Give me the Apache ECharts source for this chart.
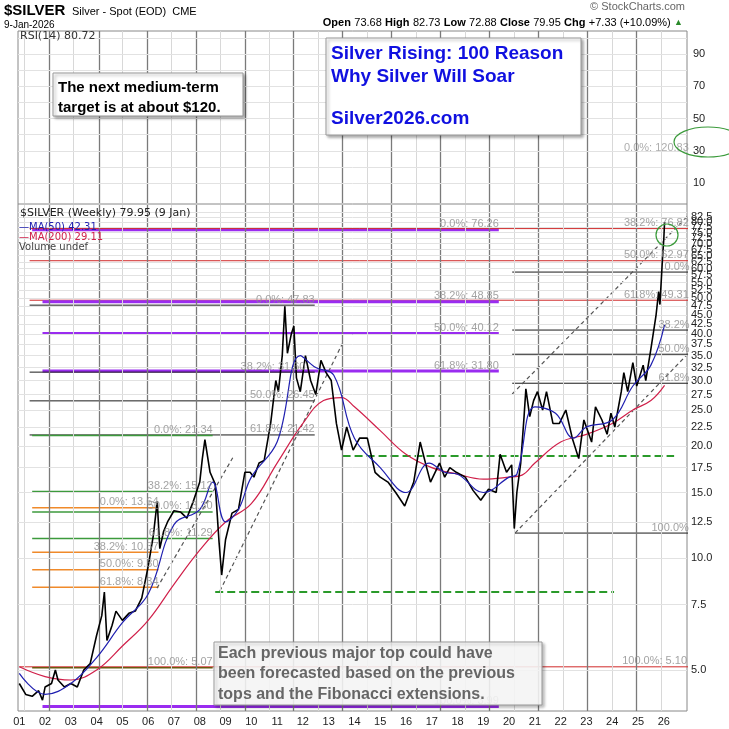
<!DOCTYPE html>
<html><head><meta charset="utf-8">
<script src="https://cdn.jsdelivr.net/npm/echarts@6/dist/echarts.min.js"></script>
<style>html,body{margin:0;padding:0;background:#fff}#c{width:729px;height:729px}</style>
</head><body><div id="c"></div>
<script>
// ---------- data ----------
const priceDates = [2001.0,2001.25,2001.5,2001.75,2001.9,2002.0,2002.25,2002.4,2002.5,2002.75,2003.0,2003.25,2003.5,2003.75,2004.0,2004.2,2004.3,2004.4,2004.6,2004.75,2005.0,2005.25,2005.5,2005.75,2006.0,2006.2,2006.35,2006.45,2006.6,2006.75,2007.0,2007.25,2007.5,2007.75,2008.0,2008.1,2008.2,2008.4,2008.6,2008.75,2008.85,2009.0,2009.25,2009.5,2009.75,2009.95,2010.1,2010.3,2010.5,2010.75,2010.95,2011.05,2011.2,2011.3,2011.4,2011.55,2011.65,2011.75,2011.9,2012.1,2012.3,2012.5,2012.7,2012.9,2013.1,2013.3,2013.5,2013.7,2013.95,2014.2,2014.5,2014.8,2015.0,2015.3,2015.6,2015.95,2016.3,2016.55,2016.8,2016.95,2017.3,2017.5,2017.7,2017.95,2018.3,2018.6,2018.9,2019.2,2019.5,2019.65,2019.9,2020.1,2020.2,2020.3,2020.45,2020.58,2020.65,2020.8,2020.95,2021.1,2021.3,2021.45,2021.7,2021.95,2022.2,2022.45,2022.7,2022.9,2023.2,2023.35,2023.6,2023.8,2023.95,2024.1,2024.35,2024.45,2024.6,2024.8,2024.95,2025.2,2025.3,2025.5,2025.7,2025.8,2025.85,2025.95,2026.0,2026.03];
const prices     = [4.6,4.3,4.25,4.4,4.15,4.5,4.6,5.0,4.7,4.5,4.6,4.5,5.0,5.2,6.2,7.0,8.1,6.0,6.6,7.2,6.8,7.1,7.2,7.8,9.5,11.5,14.2,10.6,11.8,12.5,13.4,13.3,12.8,14.2,16.0,18.5,20.8,17.0,15.8,11.0,9.0,11.2,13.2,13.5,17.0,17.0,16.5,18.0,18.3,23.0,30.0,28.0,35.0,47.5,35.5,40.0,42.0,30.5,28.0,35.0,30.0,27.5,34.0,31.5,30.0,23.0,19.5,22.5,19.5,21.0,21.0,17.0,16.5,16.0,15.0,13.8,16.0,20.5,17.5,16.0,18.0,16.5,17.5,17.0,16.5,15.2,14.3,15.3,15.0,19.0,17.0,17.8,12.0,15.0,18.0,24.0,28.5,24.0,26.5,28.0,25.0,28.0,23.0,23.0,25.0,21.0,18.5,23.5,20.5,25.5,23.5,21.5,24.5,22.5,28.0,31.5,28.0,33.5,29.0,33.0,30.0,36.5,45.0,52.0,48.0,64.0,72.0,80.0];
const ma50Dates  = [2001.0,2002.0,2003.0,2004.0,2005.0,2006.0,2007.0,2008.0,2008.5,2009.0,2009.5,2010.0,2011.0,2011.9,2012.5,2013.2,2014.0,2015.0,2016.0,2016.9,2017.5,2018.0,2019.0,2020.0,2020.3,2021.0,2021.8,2022.5,2023.0,2024.0,2024.8,2025.5,2026.03];
const ma50       = [4.9,4.3,4.6,5.4,6.7,8.0,12.3,13.5,16.0,12.5,13.5,16.5,20.5,35.0,32.5,31.0,21.0,17.5,15.0,18.0,17.0,16.8,15.0,16.5,16.8,25.5,24.5,21.0,22.5,23.5,29.0,33.0,42.31];
const ma200Dates = [2001.0,2002.0,2003.0,2004.0,2005.0,2006.0,2007.0,2008.0,2009.0,2010.0,2011.0,2012.0,2012.8,2013.5,2014.0,2015.0,2016.0,2017.0,2018.0,2019.0,2020.0,2020.5,2021.0,2022.0,2023.0,2024.0,2024.8,2025.5,2026.03];
const ma200      = [5.1,4.8,4.7,5.0,5.8,6.8,8.5,10.5,12.5,14.0,18.0,23.0,26.5,27.0,25.5,22.0,19.0,17.5,16.8,16.3,16.5,16.7,18.0,20.5,21.5,23.0,25.0,26.5,29.11];
const yearLabels = [2001,2002,2003,2004,2005,2006,2007,2008,2009,2010,2011,2012,2013,2014,2015,2016,2017,2018,2019,2020,2021,2022,2023,2024,2025,2026];
const majorVLines = [2002.16,2004.1,2005.95,2007.85,2009.75,2011.64,2013.54,2015.43,2017.33,2019.23,2021.12,2023.02,2024.92];
const minorVLines = [2001.2,2003.1,2005.0,2006.9,2008.8,2010.7,2012.6,2014.5,2016.4,2018.3,2020.2,2022.1,2024.0,2025.9];
const priceTicks = [5,7.5,10,12.5,15,17.5,20,22.5,25,27.5,30,32.5,35,37.5,40,42.5,45,47.5,50,52.5,55,57.5,60,62.5,65,67.5,70,72.5,75,77.5,80,82.5,85];
const rsiTicks = [10,30,50,70,90];
const rsiGrid = [10,20,30,40,50,60,70,80,90,100];
// Fibonacci levels: value, from year, to year, kind, label, label anchor year
const fibValues = [76.26,76.82,62.97,58.7,49.31,48.85,47.83,41.0,40.12,35.3,31.8,31.6,29.5,26.45,21.42,21.34,18.8,15.1,13.64,13.3,11.67,11.29,10.37,9.30,8.34,8.1,5.10,5.07,3.99];
const fibFrom   = [2001.5,2001.4,2001.4,2020.12,2001.4,2001.9,2001.4,2020.12,2001.9,2020.12,2001.9,2001.4,2020.12,2001.4,2001.4,2001.5,2013.54,2001.5,2001.5,2001.5,2020.2,2001.5,2001.5,2001.5,2001.5,2008.6,2001.0,2001.5,2001.9];
const fibTo     = [2019.6,2026.97,2026.97,2027.2,2026.97,2019.6,2012.46,2027.2,2019.6,2027.2,2019.6,2012.46,2027.2,2012.46,2012.46,2008.5,2026.4,2008.5,2006.4,2008.5,2027.2,2008.5,2006.4,2006.4,2006.4,2024.07,2026.97,2008.5,2019.6];
const fibKind   = ['purple','red','red','black','red','purple','black','black','purple','black','purple','black','black','black','black','green','gdash','green','orange','green','black','green','orange','orange','orange','gdash','red','olive','purple'];
const fibLabels = ['0.0%: 76.26','38.2%: 76.82','50.0%: 62.97','0.0%','61.8%: 49.31','38.2%: 48.85','0.0%: 47.83','38.2%','50.0%: 40.12','50.0%','61.8%: 31.80','38.2%: 31.60','61.8%','50.0%: 26.45','61.8%: 21.42','0.0%: 21.34','','38.2%: 15.12','0.0%: 13.64','50.0%: 13.30','100.0%','61.8%: 11.29','38.2%: 10.37','50.0%: 9.30','61.8%: 8.34','','100.0%: 5.10','100.0%: 5.07','100.0%: 3.99'];
const fibLabelAt= [2019.6,2026.97,2026.97,2027.0,2026.97,2019.6,2012.46,2027.0,2019.6,2027.0,2019.6,2012.1,2027.0,2012.46,2012.46,2008.5,0,2008.5,2006.4,2008.5,2026.97,2008.5,2006.4,2006.4,2006.4,0,2026.9,2008.5,2019.6];
const trendLines = [[[2020.12,27.6],[2026.97,83.6]],[[2020.23,11.67],[2026.97,35.6]],[[2006.34,8.3],[2009.28,18.6]],[[2008.78,8.15],[2013.54,37.8]]];
const topTarget = {rsiPos:27.5, label:'0.0%: 120.83'};

// ---------- styles ----------
const kindStyle = {
  purple:{color:'#9a2cf0',width:3,type:'solid'}, red:{color:'#d02a2a',width:1,type:'solid'},
  black:{color:'#1a1a1a',width:1,type:'solid'}, green:{color:'#3c9a3c',width:1.5,type:'solid'},
  orange:{color:'#f08a2a',width:1.5,type:'solid'}, olive:{color:'#6a5a10',width:1.5,type:'solid'},
  gdash:{color:'#2a9a2a',width:2,type:'dashed'}
};
const chart = echarts.init(document.getElementById('c'));
const X0=2000.95, X1=2026.9;
const series=[];
// grid lines (both panels)
const vLines=(xi,yi)=>[{type:'line',xAxisIndex:xi,yAxisIndex:yi,data:[],silent:true,
  markLine:{symbol:'none',silent:true,label:{show:false},animation:false,
   data:minorVLines.map(v=>({xAxis:v,lineStyle:{color:'#d8d8d8',width:1,type:'solid'}}))
    .concat(majorVLines.map(v=>({xAxis:v,lineStyle:{color:'#7a7a7a',width:1.3,type:'solid'}})))}}];
series.push(...vLines(0,0),...vLines(1,1));
series.push({type:'line',xAxisIndex:1,yAxisIndex:1,data:[],silent:true,
  markLine:{symbol:'none',silent:true,label:{show:false},animation:false,
   data:priceTicks.map(v=>({yAxis:v,lineStyle:{color:'#e2e2e2',width:1,type:'solid'}}))}});
series.push({type:'line',xAxisIndex:0,yAxisIndex:0,data:[],silent:true,
  markLine:{symbol:'none',silent:true,animation:false,label:{show:false},
   data:rsiGrid.map(v=>({yAxis:v,lineStyle:{color:'#e2e2e2',width:1,type:'solid'}}))
   .concat([[{coord:[2001.5,topTarget.rsiPos],lineStyle:{color:'#d02a2a',width:1,type:'solid'}},{coord:[2027.6,topTarget.rsiPos]}]])}});
series.push({type:'scatter',xAxisIndex:0,yAxisIndex:0,symbolSize:0,clip:false,silent:true,
  data:[[2026.97,topTarget.rsiPos]],label:{show:true,position:'top',align:'right',distance:1,formatter:topTarget.label,color:'#999',fontSize:11,fontFamily:'Liberation Sans'}});
// fib segments
fibValues.forEach((v,i)=>{
  const s=kindStyle[fibKind[i]];
  series.push({type:'line',xAxisIndex:1,yAxisIndex:1,symbol:'none',silent:true,clip:false,z:3,
    data:[[fibFrom[i],v],[fibTo[i],v]],lineStyle:{color:s.color,width:s.width,type:s.type}});
});
series.push({type:'scatter',xAxisIndex:1,yAxisIndex:1,symbolSize:0,clip:false,silent:true,z:6,
  data:fibValues.map((v,i)=>[fibLabelAt[i],v,fibLabels[i]]).filter(d=>d[2]),
  label:{show:true,position:'top',align:'right',distance:0,formatter:p=>p.data[2],color:'#8c8c8c',fontSize:11,fontFamily:'Liberation Sans'}});
trendLines.forEach(t=>series.push({type:'line',xAxisIndex:1,yAxisIndex:1,symbol:'none',silent:true,z:4,
  data:t,lineStyle:{color:'#555',width:1.2,type:[4,3]}}));
series.push({type:'line',xAxisIndex:1,yAxisIndex:1,symbol:'none',z:5,data:ma200Dates.map((d,i)=>[d,ma200[i]]),lineStyle:{color:'#d0204a',width:1.2},smooth:0.4});
series.push({type:'line',xAxisIndex:1,yAxisIndex:1,symbol:'none',z:5,data:priceDates.map((d,i)=>[d,prices[i]]),lineStyle:{color:'#000',width:1.6}});
series.push({type:'line',xAxisIndex:1,yAxisIndex:1,symbol:'none',z:5,data:ma50Dates.map((d,i)=>[d,ma50[i]]),lineStyle:{color:'#2020b0',width:1.2},smooth:0.4});

const F='Liberation Sans';
const txt=(x,y,t,st)=>({type:'text',left:x,top:y,z:100,style:Object.assign({text:t,font:'11px '+F,fill:'#000'},st||{})});
const box=(x,y,w,h,z)=>({type:'rect',shape:{x,y,width:w,height:h},z:z||90,style:{fill:'#fff',stroke:'#999',lineWidth:1,shadowBlur:3,shadowColor:'rgba(0,0,0,0.35)',shadowOffsetX:2,shadowOffsetY:2}});
const graphic=[
  txt(4,3,'$SILVER',{font:'bold 15px '+F}),
  txt(72,6,'Silver - Spot (EOD)  CME',{font:'11px '+F}),
  txt(4,20,'9-Jan-2026',{font:'10px '+F}),
  {type:'text',right:44,top:1,z:100,style:{text:'© StockCharts.com',font:'11px '+F,fill:'#666'}},
  {type:'text',right:46,top:17,z:100,style:{rich:{b:{font:'bold 11px '+F,fill:'#000'},n:{font:'11px '+F,fill:'#000'},g:{font:'9px '+F,fill:'#2a8a2a'}},
    text:'{b|Open} {n|73.68} {b|High} {n|82.73} {b|Low} {n|72.88} {b|Close} {n|79.95} {b|Chg} {n|+7.33 (+10.09%)} {g|▲}'}},
  txt(20,31,'RSI(14) 80.72',{font:'11px DejaVu Sans',fill:'#333'}),
  box(53,73,190,43), txt(58,78,'The next medium-term\ntarget is at about $120.',{font:'bold 15px '+F,lineHeight:20}),
  box(326,38,255,97), txt(331,42,'Silver Rising: 100 Reason\nWhy Silver Will Soar',{font:'bold 19px '+F,fill:'#1010e0',lineHeight:23}),
  txt(331,109,'Silver2026.com',{font:'bold 19px '+F,fill:'#1010e0'}),
  {type:'ellipse',shape:{cx:708,cy:142,rx:34,ry:15},z:100,style:{fill:'none',stroke:'#3a9a3a',lineWidth:1.2}},
  {type:'circle',shape:{cx:667,cy:235,r:11},z:100,style:{fill:'none',stroke:'#3a9a3a',lineWidth:1.2}},
  txt(20,208,'$SILVER (Weekly) 79.95 (9 Jan)',{font:'11px DejaVu Sans',fill:'#222'}),
  txt(19,222,'—MA(50) 42.31',{font:'10px DejaVu Sans',fill:'#2020b0'}),
  txt(19,232,'—MA(200) 29.11',{font:'10px DejaVu Sans',fill:'#d0204a'}),
  txt(19,242,'Volume undef',{font:'10px DejaVu Sans',fill:'#444'}),
  {type:'rect',shape:{x:214,y:642,width:328,height:63},z:90,style:{fill:'rgba(255,255,255,0.85)',stroke:'#999',lineWidth:1,shadowBlur:3,shadowColor:'rgba(0,0,0,0.3)',shadowOffsetX:2,shadowOffsetY:2}},
  txt(218,643,'Each previous major top could have\nbeen forecasted based on the previous\ntops and the Fibonacci extensions.',{font:'bold 16px '+F,fill:'#666',lineHeight:20.5}),
];
chart.setOption({
  animation:false,
  grid:[{left:18,right:42,top:31,height:172},{left:18,right:42,top:205,bottom:18}],
  xAxis:[
    {type:'value',gridIndex:0,min:X0,max:X1,axisLabel:{show:false},axisTick:{show:false},splitLine:{show:false},axisLine:{show:false}},
    {type:'value',gridIndex:1,min:X0,max:X1,splitLine:{show:false},axisTick:{show:false},axisLine:{show:false},
     axisLabel:{customValues:yearLabels,formatter:v=>String(Math.round(v)%100).padStart(2,'0'),color:'#222',fontSize:11,fontFamily:F,margin:5,showMinLabel:true,showMaxLabel:true}}
  ],
  yAxis:[
    {type:'value',gridIndex:0,min:-2.3,max:104.2,position:'right',splitLine:{show:false},axisTick:{show:false},axisLine:{show:false},
     axisLabel:{customValues:rsiTicks,color:'#222',fontSize:11,fontFamily:F,margin:6}},
    {type:'log',gridIndex:1,min:3.88,max:88.9,position:'right',splitLine:{show:false},axisTick:{show:false},axisLine:{show:false},
     axisLabel:{customValues:priceTicks,formatter:v=>(+v).toFixed(1),color:'#222',fontSize:11,fontFamily:F,margin:4,hideOverlap:false}}
  ],
  graphic:[{type:'rect',shape:{x:18,y:31,width:669,height:680},z:-1,style:{fill:'none',stroke:'#888',lineWidth:1}},
    {type:'line',shape:{x1:18,y1:204,x2:687,y2:204},z:50,style:{stroke:'#888',lineWidth:1}}].concat(graphic),
  series
});
</script></body></html>
